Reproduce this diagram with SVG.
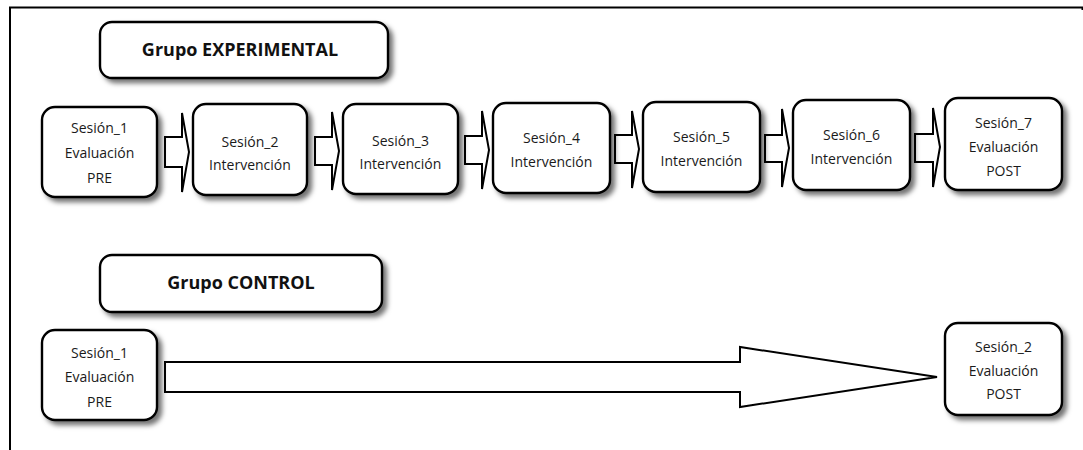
<svg xmlns="http://www.w3.org/2000/svg" width="1083" height="450" viewBox="0 0 1083 450">
<style>
.box{fill:#fff;stroke:#000;stroke-width:2.4;filter:url(#sh)}
.arr{fill:#fff;stroke:#000;stroke-width:2;stroke-linejoin:miter}
.t{font-family:"Open Sans","Noto Sans",sans-serif;font-size:14px;fill:#1a1a1a;text-anchor:middle}
.h{font-family:"Open Sans","Noto Sans",sans-serif;font-size:18px;font-weight:bold;fill:#111;text-anchor:middle}
.frame{stroke:#000;stroke-width:2;fill:none}
</style>
<defs>
<filter id="sh" x="-20%" y="-20%" width="150%" height="150%">
<feDropShadow dx="4" dy="4" stdDeviation="2.5" flood-color="#000" flood-opacity="0.55"/>
</filter>
</defs>
<rect width="1083" height="450" fill="#fff"/>
<g id="frame">
<path class="frame" d="M9 7.5H1082.5V10M10 7.5V450"/>
</g>
<g id="connectors">
<polygon class="arr" points="165,137 182,137 182,113 189,152 182,192 182,167 165,167"/>
<polygon class="arr" points="315,137 332,137 332,112 339,151 332,190 332,165 315,165"/>
<polygon class="arr" points="465,136 482,136 482,111 489,150 482,189 482,164 465,164"/>
<polygon class="arr" points="615,135 632,135 632,111 639,149 632,188 632,163 615,163"/>
<polygon class="arr" points="765,135 782,135 782,109 789,148 782,187 782,162 765,162"/>
<polygon class="arr" points="915,134 933,134 933,108 940,147 933,187 933,162 915,162"/>
<polygon class="arr" points="165,362 740,362 740,347 937,377 740,407 740,392 165,392"/>
</g>
<g id="grupo-experimental">
<rect class="box" x="100" y="22" width="288" height="56" rx="12"/>
<text class="h" x="240" y="56">Grupo EXPERIMENTAL</text>
</g>
<g id="exp-s1">
<rect class="box" x="42" y="107" width="115" height="90" rx="13"/>
<text class="t" x="99.5" y="133">Sesión_1</text>
<text class="t" x="99.5" y="158">Evaluación</text>
<text class="t" x="99.5" y="183">PRE</text>
</g>
<g id="exp-s2">
<rect class="box" x="193" y="104" width="114" height="91" rx="13"/>
<text class="t" x="250" y="147">Sesión_2</text>
<text class="t" x="250" y="170">Intervención</text>
</g>
<g id="exp-s3">
<rect class="box" x="343" y="104" width="115" height="90" rx="13"/>
<text class="t" x="400.5" y="146">Sesión_3</text>
<text class="t" x="400.5" y="169">Intervención</text>
</g>
<g id="exp-s4">
<rect class="box" x="493" y="103" width="117" height="90" rx="13"/>
<text class="t" x="551.5" y="143">Sesión_4</text>
<text class="t" x="551.5" y="167">Intervención</text>
</g>
<g id="exp-s5">
<rect class="box" x="643" y="102" width="117" height="90" rx="13"/>
<text class="t" x="701.5" y="142">Sesión_5</text>
<text class="t" x="701.5" y="166">Intervención</text>
</g>
<g id="exp-s6">
<rect class="box" x="793" y="100" width="117" height="90" rx="13"/>
<text class="t" x="851.5" y="140">Sesión_6</text>
<text class="t" x="851.5" y="164">Intervención</text>
</g>
<g id="exp-s7">
<rect class="box" x="945" y="98" width="117" height="92" rx="13"/>
<text class="t" x="1003.5" y="128">Sesión_7</text>
<text class="t" x="1003.5" y="152">Evaluación</text>
<text class="t" x="1003.5" y="176">POST</text>
</g>
<g id="grupo-control">
<rect class="box" x="100" y="255" width="282" height="57" rx="12"/>
<text class="h" x="241" y="289">Grupo CONTROL</text>
</g>
<g id="ctl-s1">
<rect class="box" x="42" y="330" width="115" height="90" rx="13"/>
<text class="t" x="99.5" y="358">Sesión_1</text>
<text class="t" x="99.5" y="382">Evaluación</text>
<text class="t" x="99.5" y="407">PRE</text>
</g>
<g id="ctl-s2">
<rect class="box" x="945" y="323" width="117" height="92" rx="13"/>
<text class="t" x="1003.5" y="352">Sesión_2</text>
<text class="t" x="1003.5" y="376">Evaluación</text>
<text class="t" x="1003.5" y="399">POST</text>
</g>
</svg>
